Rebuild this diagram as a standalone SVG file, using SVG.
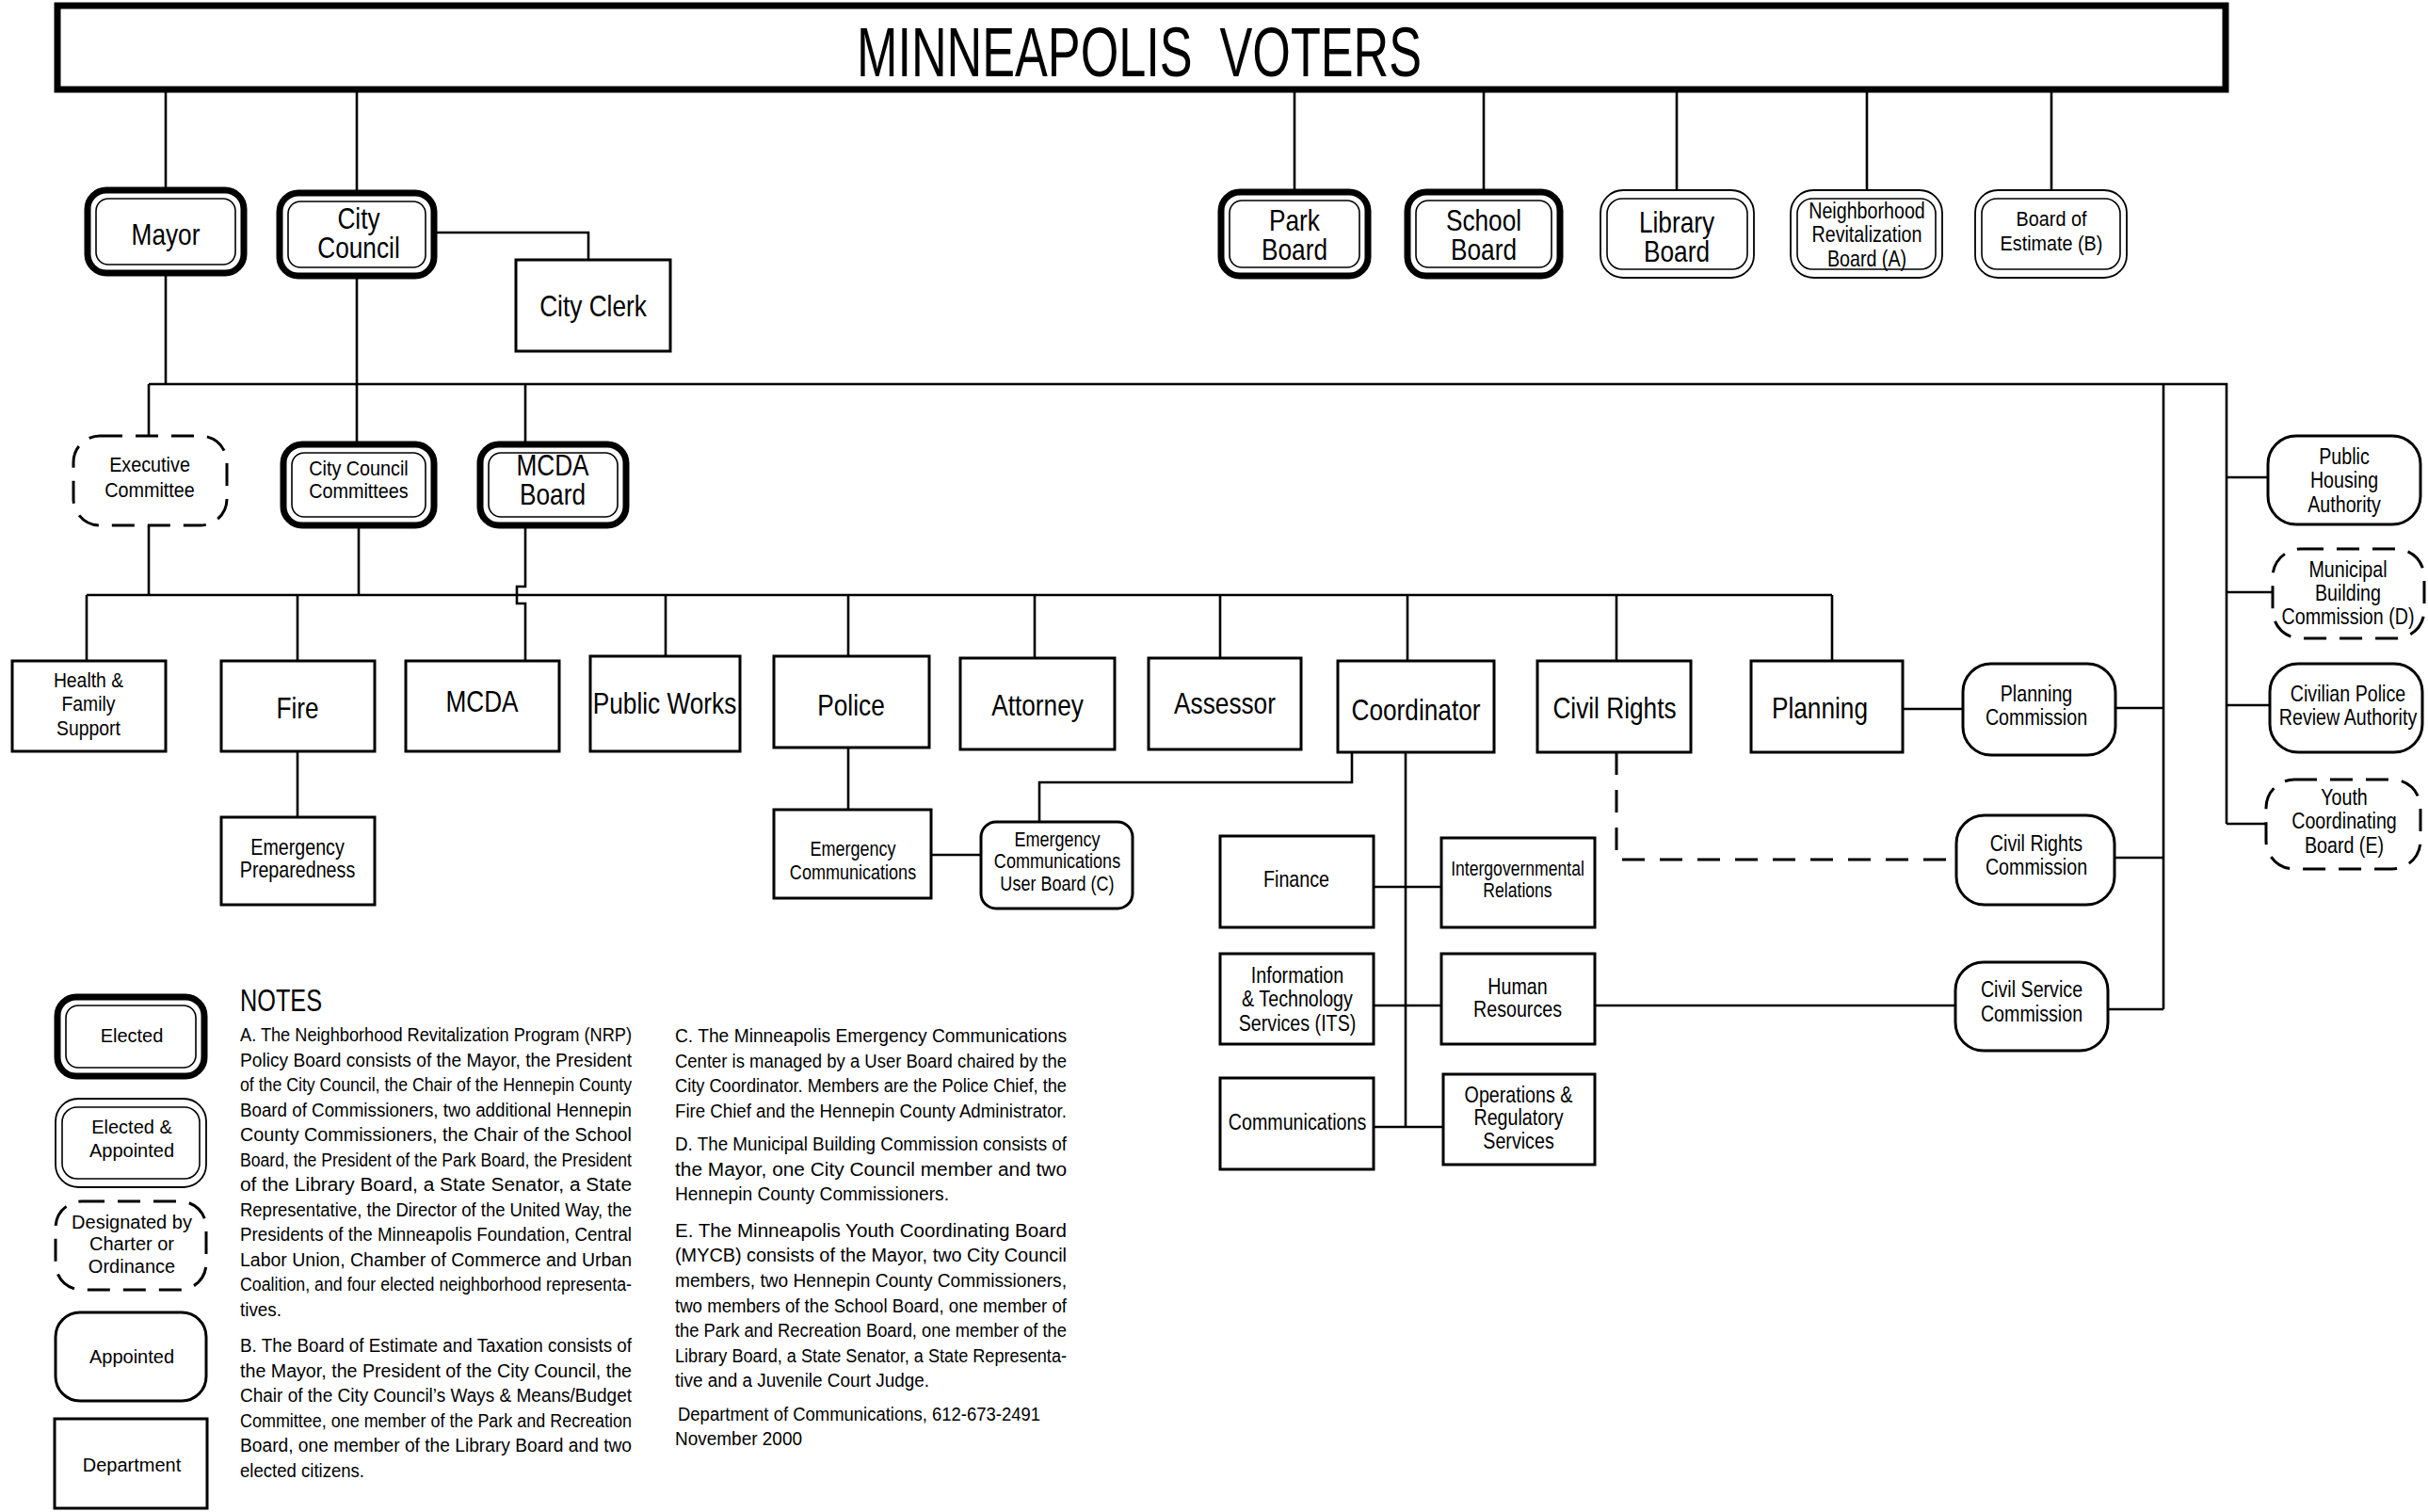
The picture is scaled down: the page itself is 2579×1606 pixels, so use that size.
<svg xmlns="http://www.w3.org/2000/svg" width="2579" height="1606" viewBox="0 0 2579 1606">
<style>
.ln{fill:none;stroke:#000;stroke-width:2.6}
.dl{fill:none;stroke:#000;stroke-width:3;stroke-dasharray:24 16}
.dp{fill:#fff;stroke:#000;stroke-width:3}
.ap{fill:#fff;stroke:#000;stroke-width:3}
.ds{fill:#fff;stroke:#000;stroke-width:3;stroke-dasharray:24 14}
.eo{fill:#fff;stroke:#000;stroke-width:7}
.ei{fill:none;stroke:#000;stroke-width:1.6}
.ao{fill:#fff;stroke:#000;stroke-width:1.8}
.t{font-family:"Liberation Sans",Arial,sans-serif;fill:#000;text-anchor:middle}
.L{font-size:32px}
.M{font-size:24px}
.S{font-size:22px}
.g{font-family:"Liberation Sans",Arial,sans-serif;font-size:20px;fill:#000;text-anchor:middle}
.n{font-family:"Liberation Sans",Arial,sans-serif;font-size:20px;fill:#000}
</style>

<g id="connectors">
<path class="ln" d="M176 95V202M379 95V205M1375 95V204M1576 95V204M1781 95V202M1983 95V202M2179 95V202"/>
<path class="ln" d="M461 247H625V276"/>
<path class="ln" d="M176 290V408"/>
<path class="ln" d="M158 408H2365V875"/>
<path class="ln" d="M158 408V463"/>
<path class="ln" d="M379 293V472"/>
<path class="ln" d="M558 408V472"/>
<path class="ln" d="M2298 408V1072"/>
<path class="ln" d="M158 558V632M381 558V632"/>
<path class="ln" d="M92 632H1946"/>
<path class="ln" d="M558 558V623H549V641H558V702"/>
<path class="ln" d="M92 632V702M316 632V702M707 632V697M901 632V697M1099 632V699M1296 632V699M1495 632V702M1717 632V702M1946 632V702"/>
<path class="ln" d="M316 798V868"/>
<path class="ln" d="M901 794V860"/>
<path class="ln" d="M989 908H1042"/>
<path class="ln" d="M1436 799V831H1104V873"/>
<path class="ln" d="M1493 799V1197"/>
<path class="ln" d="M1459 942H1531M1459 1068H1531M1459 1197H1533"/>
<path class="ln" d="M1694 1068H2077"/>
<path class="ln" d="M2021 753H2085M2247 752H2298"/>
<path class="dl" d="M1717 799V913H2078"/>
<path class="ln" d="M2246 911H2298M2239 1072H2298"/>
<path class="ln" d="M2365 507H2409M2365 629H2414M2365 749H2411M2365 875H2407"/>
</g>

<g id="voters">
<rect x="61" y="6" width="2303" height="89" fill="#fff" stroke="#000" stroke-width="7"/>
<text class="t" x="910" y="81" style="font-size:74px;text-anchor:start" textLength="600" lengthAdjust="spacingAndGlyphs">MINNEAPOLIS&#160; VOTERS</text>
</g>

<g id="mayor"><rect class="eo" x="93" y="202" width="166" height="88" rx="20"/><rect class="ei" x="102" y="211" width="148" height="70" rx="13"/><text class="t L" transform="translate(176,260) scale(0.82,1)">Mayor</text></g>
<g id="city-council"><rect class="eo" x="297" y="205" width="164" height="88" rx="20"/><rect class="ei" x="306" y="214" width="146" height="70" rx="13"/><text class="t L" transform="translate(381,243) scale(0.82,1)"><tspan x="0" y="0">City</tspan><tspan x="0" y="31">Council</tspan></text></g>
<g id="city-clerk"><rect class="dp" x="548" y="276" width="164" height="97"/><text class="t L" transform="translate(630,336) scale(0.82,1)">City Clerk</text></g>

<g id="park-board"><rect class="eo" x="1297" y="204" width="156" height="89" rx="20"/><rect class="ei" x="1306" y="213" width="138" height="71" rx="13"/><text class="t L" transform="translate(1375,245) scale(0.82,1)"><tspan x="0" y="0">Park</tspan><tspan x="0" y="31">Board</tspan></text></g>
<g id="school-board"><rect class="eo" x="1495" y="204" width="162" height="89" rx="20"/><rect class="ei" x="1504" y="213" width="144" height="71" rx="13"/><text class="t L" transform="translate(1576,245) scale(0.82,1)"><tspan x="0" y="0">School</tspan><tspan x="0" y="31">Board</tspan></text></g>
<g id="library-board"><rect class="ao" x="1700" y="202" width="163" height="93" rx="24"/><rect class="ei" x="1707" y="211" width="149" height="75" rx="16"/><text class="t L" transform="translate(1781,247) scale(0.82,1)"><tspan x="0" y="0">Library</tspan><tspan x="0" y="31">Board</tspan></text></g>
<g id="nrb"><rect class="ao" x="1902" y="202" width="161" height="93" rx="24"/><rect class="ei" x="1909" y="211" width="147" height="75" rx="16"/><text class="t M" transform="translate(1983,232) scale(0.82,1)"><tspan x="0" y="0">Neighborhood</tspan><tspan x="0" y="25.5">Revitalization</tspan><tspan x="0" y="51">Board (A)</tspan></text></g>
<g id="board-of-estimate"><rect class="ao" x="2098" y="202" width="161" height="93" rx="24"/><rect class="ei" x="2105" y="211" width="147" height="75" rx="16"/><text class="t S" transform="translate(2179,240) scale(0.9,1)"><tspan x="0" y="0">Board of</tspan><tspan x="0" y="26">Estimate (B)</tspan></text></g>

<g id="executive-committee"><rect class="ds" x="78" y="463" width="163" height="95" rx="28"/><text class="t S" transform="translate(159,501) scale(0.9,1)"><tspan x="0" y="0">Executive</tspan><tspan x="0" y="27">Committee</tspan></text></g>
<g id="city-council-committees"><rect class="eo" x="301" y="472" width="160" height="86" rx="20"/><rect class="ei" x="310" y="481" width="142" height="68" rx="13"/><text class="t S" transform="translate(381,505) scale(0.9,1)"><tspan x="0" y="0">City Council</tspan><tspan x="0" y="24">Committees</tspan></text></g>
<g id="mcda-board"><rect class="eo" x="510" y="472" width="155" height="86" rx="20"/><rect class="ei" x="519" y="481" width="137" height="68" rx="13"/><text class="t L" transform="translate(587,505) scale(0.82,1)"><tspan x="0" y="0">MCDA</tspan><tspan x="0" y="31">Board</tspan></text></g>

<g id="health-family-support"><rect class="dp" x="13" y="702" width="163" height="96"/><text class="t S" transform="translate(94,730) scale(0.88,1)"><tspan x="0" y="0">Health &amp;</tspan><tspan x="0" y="25.5">Family</tspan><tspan x="0" y="51">Support</tspan></text></g>
<g id="fire"><rect class="dp" x="235" y="702" width="163" height="96"/><text class="t L" transform="translate(316,763) scale(0.82,1)">Fire</text></g>
<g id="mcda"><rect class="dp" x="431" y="702" width="163" height="96"/><text class="t L" transform="translate(512,756) scale(0.82,1)">MCDA</text></g>
<g id="public-works"><rect class="dp" x="627" y="697" width="159" height="101"/><text class="t L" transform="translate(706,758) scale(0.82,1)">Public Works</text></g>
<g id="police"><rect class="dp" x="822" y="697" width="165" height="97"/><text class="t L" transform="translate(904,760) scale(0.82,1)">Police</text></g>
<g id="attorney"><rect class="dp" x="1020" y="699" width="164" height="97"/><text class="t L" transform="translate(1102,760) scale(0.82,1)">Attorney</text></g>
<g id="assessor"><rect class="dp" x="1220" y="699" width="162" height="97"/><text class="t L" transform="translate(1301,758) scale(0.82,1)">Assessor</text></g>
<g id="coordinator"><rect class="dp" x="1421" y="702" width="166" height="97"/><text class="t L" transform="translate(1504,765) scale(0.82,1)">Coordinator</text></g>
<g id="civil-rights"><rect class="dp" x="1633" y="702" width="163" height="97"/><text class="t L" transform="translate(1715,763) scale(0.82,1)">Civil Rights</text></g>
<g id="planning"><rect class="dp" x="1860" y="702" width="161" height="97"/><text class="t L" transform="translate(1933,763) scale(0.82,1)">Planning</text></g>

<g id="emergency-preparedness"><rect class="dp" x="235" y="868" width="163" height="93"/><text class="t M" transform="translate(316,908) scale(0.82,1)"><tspan x="0" y="0">Emergency</tspan><tspan x="0" y="24">Preparedness</tspan></text></g>
<g id="emergency-communications"><rect class="dp" x="822" y="860" width="167" height="94"/><text class="t S" transform="translate(906,909) scale(0.82,1)"><tspan x="0" y="0">Emergency</tspan><tspan x="0" y="25">Communications</tspan></text></g>
<g id="ec-user-board"><rect class="ap" x="1042" y="873" width="161" height="92" rx="16"/><text class="t S" transform="translate(1123,899) scale(0.82,1)"><tspan x="0" y="0">Emergency</tspan><tspan x="0" y="23.5">Communications</tspan><tspan x="0" y="47">User Board (C)</tspan></text></g>

<g id="finance"><rect class="dp" x="1296" y="888" width="163" height="97"/><text class="t M" transform="translate(1377,942) scale(0.82,1)">Finance</text></g>
<g id="intergovernmental-relations"><rect class="dp" x="1531" y="890" width="163" height="95"/><text class="t S" transform="translate(1612,930) scale(0.8,1)"><tspan x="0" y="0">Intergovernmental</tspan><tspan x="0" y="23">Relations</tspan></text></g>
<g id="its"><rect class="dp" x="1296" y="1013" width="163" height="96"/><text class="t M" transform="translate(1378,1044) scale(0.82,1)"><tspan x="0" y="0">Information</tspan><tspan x="0" y="25.5">&amp; Technology</tspan><tspan x="0" y="51">Services (ITS)</tspan></text></g>
<g id="human-resources"><rect class="dp" x="1531" y="1013" width="163" height="96"/><text class="t M" transform="translate(1612,1056) scale(0.82,1)"><tspan x="0" y="0">Human</tspan><tspan x="0" y="24">Resources</tspan></text></g>
<g id="communications"><rect class="dp" x="1296" y="1145" width="163" height="97"/><text class="t M" transform="translate(1378,1200) scale(0.82,1)">Communications</text></g>
<g id="operations-regulatory"><rect class="dp" x="1533" y="1141" width="161" height="96"/><text class="t M" transform="translate(1613,1171) scale(0.82,1)"><tspan x="0" y="0">Operations &amp;</tspan><tspan x="0" y="24.5">Regulatory</tspan><tspan x="0" y="49">Services</tspan></text></g>

<g id="planning-commission"><rect class="ap" x="2085" y="705" width="162" height="97" rx="30"/><text class="t M" transform="translate(2163,745) scale(0.82,1)"><tspan x="0" y="0">Planning</tspan><tspan x="0" y="25">Commission</tspan></text></g>
<g id="civil-rights-commission"><rect class="ap" x="2078" y="866" width="168" height="95" rx="30"/><text class="t M" transform="translate(2163,904) scale(0.82,1)"><tspan x="0" y="0">Civil Rights</tspan><tspan x="0" y="25">Commission</tspan></text></g>
<g id="civil-service-commission"><rect class="ap" x="2077" y="1022" width="162" height="94" rx="30"/><text class="t M" transform="translate(2158,1059) scale(0.82,1)"><tspan x="0" y="0">Civil Service</tspan><tspan x="0" y="26">Commission</tspan></text></g>

<g id="public-housing-authority"><rect class="ap" x="2409" y="463" width="162" height="94" rx="30"/><text class="t M" transform="translate(2490,493) scale(0.82,1)"><tspan x="0" y="0">Public</tspan><tspan x="0" y="25.5">Housing</tspan><tspan x="0" y="51">Authority</tspan></text></g>
<g id="municipal-building-commission"><rect class="ds" x="2414" y="583" width="161" height="95" rx="30"/><text class="t M" transform="translate(2494,613) scale(0.82,1)"><tspan x="0" y="0">Municipal</tspan><tspan x="0" y="25">Building</tspan><tspan x="0" y="50">Commission (D)</tspan></text></g>
<g id="civilian-police-review-authority"><rect class="ap" x="2411" y="705" width="162" height="94" rx="30"/><text class="t M" transform="translate(2494,745) scale(0.82,1)"><tspan x="0" y="0">Civilian Police</tspan><tspan x="0" y="25">Review Authority</tspan></text></g>
<g id="youth-coordinating-board"><rect class="ds" x="2407" y="828" width="164" height="95" rx="30"/><text class="t M" transform="translate(2490,855) scale(0.82,1)"><tspan x="0" y="0">Youth</tspan><tspan x="0" y="25.5">Coordinating</tspan><tspan x="0" y="51">Board (E)</tspan></text></g>

<g id="legend">
<g id="legend-elected"><rect class="eo" x="61" y="1059" width="156" height="84" rx="20"/><rect class="ei" x="70" y="1068" width="138" height="66" rx="13"/><text class="g" x="140" y="1107">Elected</text></g>
<g id="legend-elected-appointed"><rect class="ao" x="59" y="1167" width="160" height="94" rx="24"/><rect class="ei" x="66" y="1176" width="146" height="76" rx="16"/><text class="g" x="140" y="1204">Elected &amp;</text><text class="g" x="140" y="1229">Appointed</text></g>
<g id="legend-designated"><rect class="ds" x="59" y="1276" width="160" height="94" rx="28"/><text class="g" x="140" y="1305">Designated by</text><text class="g" x="140" y="1328">Charter or</text><text class="g" x="140" y="1352">Ordinance</text></g>
<g id="legend-appointed"><rect class="ap" x="59" y="1394" width="160" height="94" rx="26"/><text class="g" x="140" y="1448">Appointed</text></g>
<g id="legend-department"><rect class="dp" x="58" y="1507" width="162" height="95"/><text class="g" x="140" y="1563">Department</text></g>
</g>

<g id="notes">
<text class="n" x="255" y="1074" style="font-size:34px" textLength="87" lengthAdjust="spacingAndGlyphs">NOTES</text>
<text class="n" x="255" y="1106" textLength="416" lengthAdjust="spacingAndGlyphs">A. The Neighborhood Revitalization Program (NRP)</text>
<text class="n" x="255" y="1132.5" textLength="416" lengthAdjust="spacingAndGlyphs">Policy Board consists of the Mayor, the President</text>
<text class="n" x="255" y="1159" textLength="416" lengthAdjust="spacingAndGlyphs">of the City Council, the Chair of the Hennepin County</text>
<text class="n" x="255" y="1185.5" textLength="416" lengthAdjust="spacingAndGlyphs">Board of Commissioners, two additional Hennepin</text>
<text class="n" x="255" y="1212" textLength="416" lengthAdjust="spacingAndGlyphs">County Commissioners, the Chair of the School</text>
<text class="n" x="255" y="1238.5" textLength="416" lengthAdjust="spacingAndGlyphs">Board, the President of the Park Board, the President</text>
<text class="n" x="255" y="1265" textLength="416" lengthAdjust="spacingAndGlyphs">of the Library Board, a State Senator, a State</text>
<text class="n" x="255" y="1291.5" textLength="416" lengthAdjust="spacingAndGlyphs">Representative, the Director of the United Way, the</text>
<text class="n" x="255" y="1318" textLength="416" lengthAdjust="spacingAndGlyphs">Presidents of the Minneapolis Foundation, Central</text>
<text class="n" x="255" y="1344.5" textLength="416" lengthAdjust="spacingAndGlyphs">Labor Union, Chamber of Commerce and Urban</text>
<text class="n" x="255" y="1371" textLength="416" lengthAdjust="spacingAndGlyphs">Coalition, and four elected neighborhood representa-</text>
<text class="n" x="255" y="1397.5" textLength="44" lengthAdjust="spacingAndGlyphs">tives.</text>
<text class="n" x="255" y="1436" textLength="416" lengthAdjust="spacingAndGlyphs">B. The Board of Estimate and Taxation consists of</text>
<text class="n" x="255" y="1462.5" textLength="416" lengthAdjust="spacingAndGlyphs">the Mayor, the President of the City Council, the</text>
<text class="n" x="255" y="1489" textLength="416" lengthAdjust="spacingAndGlyphs">Chair of the City Council’s Ways &amp; Means/Budget</text>
<text class="n" x="255" y="1515.5" textLength="416" lengthAdjust="spacingAndGlyphs">Committee, one member of the Park and Recreation</text>
<text class="n" x="255" y="1542" textLength="416" lengthAdjust="spacingAndGlyphs">Board, one member of the Library Board and two</text>
<text class="n" x="255" y="1568.5" textLength="132" lengthAdjust="spacingAndGlyphs">elected citizens.</text>

<text class="n" x="717" y="1107" textLength="416" lengthAdjust="spacingAndGlyphs">C. The Minneapolis Emergency Communications</text>
<text class="n" x="717" y="1134" textLength="416" lengthAdjust="spacingAndGlyphs">Center is managed by a User Board chaired by the</text>
<text class="n" x="717" y="1160" textLength="416" lengthAdjust="spacingAndGlyphs">City Coordinator. Members are the Police Chief, the</text>
<text class="n" x="717" y="1187" textLength="416" lengthAdjust="spacingAndGlyphs">Fire Chief and the Hennepin County Administrator.</text>
<text class="n" x="717" y="1222" textLength="416" lengthAdjust="spacingAndGlyphs">D. The Municipal Building Commission consists of</text>
<text class="n" x="717" y="1249" textLength="416" lengthAdjust="spacingAndGlyphs">the Mayor, one City Council member and two</text>
<text class="n" x="717" y="1275" textLength="291" lengthAdjust="spacingAndGlyphs">Hennepin County Commissioners.</text>
<text class="n" x="717" y="1314" textLength="416" lengthAdjust="spacingAndGlyphs">E. The Minneapolis Youth Coordinating Board</text>
<text class="n" x="717" y="1340" textLength="416" lengthAdjust="spacingAndGlyphs">(MYCB) consists of the Mayor, two City Council</text>
<text class="n" x="717" y="1367" textLength="416" lengthAdjust="spacingAndGlyphs">members, two Hennepin County Commissioners,</text>
<text class="n" x="717" y="1394" textLength="416" lengthAdjust="spacingAndGlyphs">two members of the School Board, one member of</text>
<text class="n" x="717" y="1420" textLength="416" lengthAdjust="spacingAndGlyphs">the Park and Recreation Board, one member of the</text>
<text class="n" x="717" y="1447" textLength="416" lengthAdjust="spacingAndGlyphs">Library Board, a State Senator, a State Representa-</text>
<text class="n" x="717" y="1473" textLength="270" lengthAdjust="spacingAndGlyphs">tive and a Juvenile Court Judge.</text>
<text class="n" x="720" y="1509" textLength="385" lengthAdjust="spacingAndGlyphs">Department of Communications, 612-673-2491</text>
<text class="n" x="717" y="1535" textLength="135" lengthAdjust="spacingAndGlyphs">November 2000</text>
</g>
</svg>
